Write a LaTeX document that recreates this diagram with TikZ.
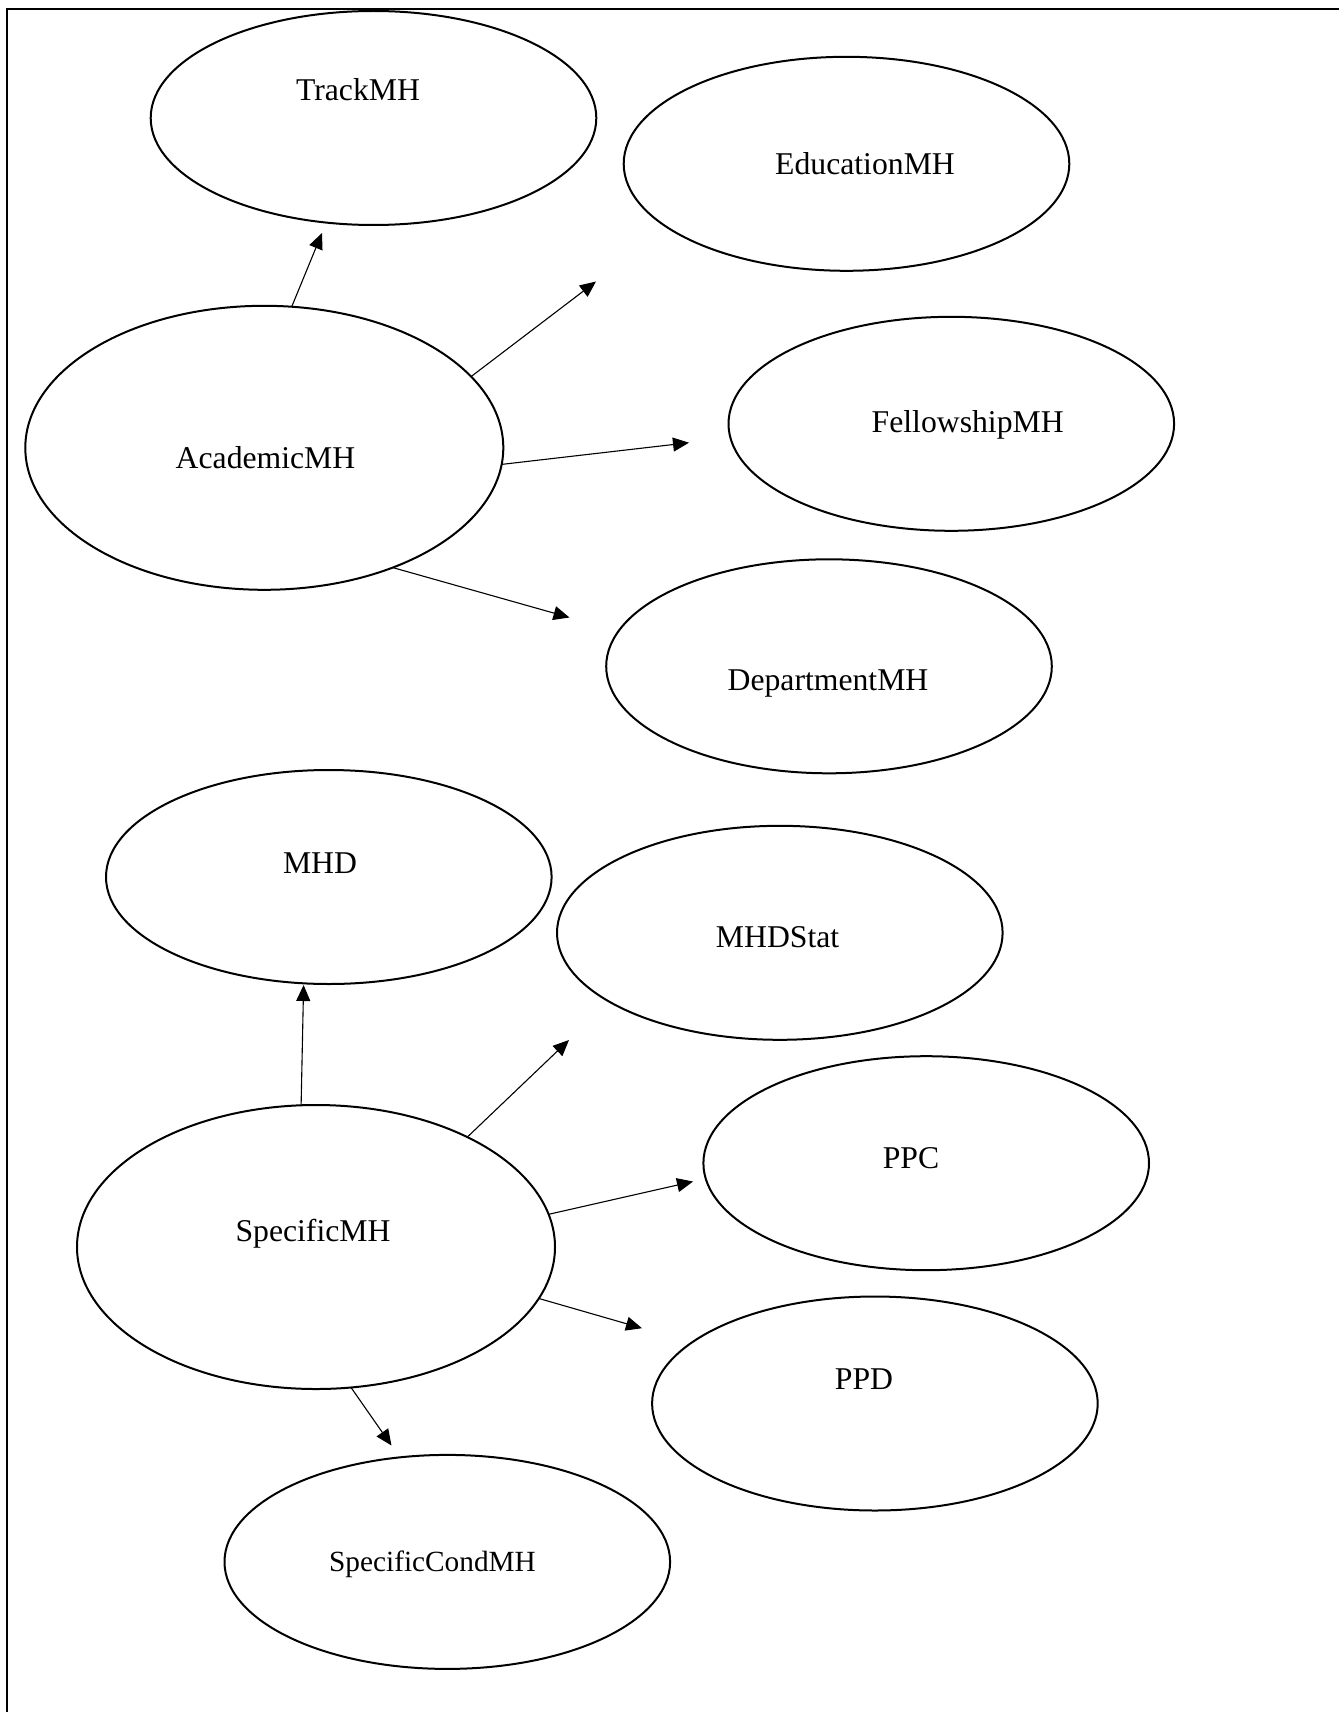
\documentclass[tikz,border=0pt]{standalone}
\usepackage{fontspec}
\setmainfont{Liberation Serif}
\usetikzlibrary{arrows.meta,shapes.geometric}
\begin{document}
\begin{tikzpicture}[x=1pt,y=-1pt,
  bigell/.style={ellipse,draw,line width=2pt,inner sep=0pt,outer sep=0pt,minimum width=478pt,minimum height=284pt},
  smallell/.style={ellipse,draw,line width=2pt,inner sep=0pt,outer sep=0pt,minimum width=445.6pt,minimum height=214pt},
  lbl/.style={anchor=base,inner sep=0pt,font=\fontsize{31.7pt}{38pt}\selectfont},
  lblsmall/.style={anchor=base,inner sep=0pt,font=\fontsize{29.3pt}{35pt}\selectfont},
  conn/.style={line width=1.1pt,-{Triangle[length=16pt,width=14pt]}}]
\useasboundingbox (0,0) rectangle (1339,1712);
% frame (top and left edges)
\draw[line width=2.4pt] (7,1712) -- (7,9) -- (1339,9);
% ellipses
\node[smallell] (track) at (373.5,118) {};
\node[smallell] (edu) at (846.5,163.8) {};
\node[bigell] (acad) at (264.3,447.8) {};
\node[smallell] (fell) at (951.3,423.8) {};
\node[smallell] (dept) at (829,666.3) {};
\node[smallell] (mhd) at (328.8,877) {};
\node[smallell] (mhdstat) at (779.8,932.8) {};
\node[bigell] (spec) at (316,1247) {};
\node[smallell] (ppc) at (926.2,1163.2) {};
\node[smallell] (ppd) at (874.9,1403.5) {};
\node[smallell] (cond) at (447.3,1561.9) {};
% labels
\node[lbl] (trackT) at (358,101) {TrackMH};
\node[lbl] (eduT) at (865,175) {EducationMH};
\node[lbl] (acadT) at (265.5,468) {AcademicMH};
\node[lbl] (fellT) at (967.7,432) {FellowshipMH};
\node[lbl] (deptT) at (828,690) {DepartmentMH};
\node[lbl] (mhdT) at (320,873) {MHD};
\node[lbl] (mhdstatT) at (777.6,947.5) {MHDStat};
\node[lbl] (specT) at (313,1241.7) {SpecificMH};
\node[lbl] (ppcT) at (911,1168) {PPC};
\node[lbl] (ppdT) at (864,1389) {PPD};
\node[lblsmall] (condT) at (432.5,1571) {SpecificCondMH};
% free arrow ends
\coordinate (t1) at (322,233);
\coordinate (t2) at (596,281.5);
\coordinate (t3) at (689,442.7);
\coordinate (t4) at (569.5,617.5);
\coordinate (u1) at (303.6,985);
\coordinate (u2) at (569,1040);
\coordinate (u3) at (693,1181.5);
\coordinate (u4) at (642,1328.2);
\coordinate (u5) at (391.5,1445.5);
% connectors
\draw[conn] (acad.79.5) -- (t1);
\draw[conn] (acad.19) -- (t2);
\draw[conn] (acad.-4.1) -- (t3);
\draw[conn] (acad.-43.7) -- (t4);
\draw[conn] (spec.96.7) -- (u1);
\draw[conn] (spec.36.9) -- (u2);
\draw[conn] (spec.8.1) -- (u3);
\draw[conn] (spec.-13.2) -- (u4);
\draw[conn] (spec.-76) -- (u5);
\end{tikzpicture}
\end{document}
